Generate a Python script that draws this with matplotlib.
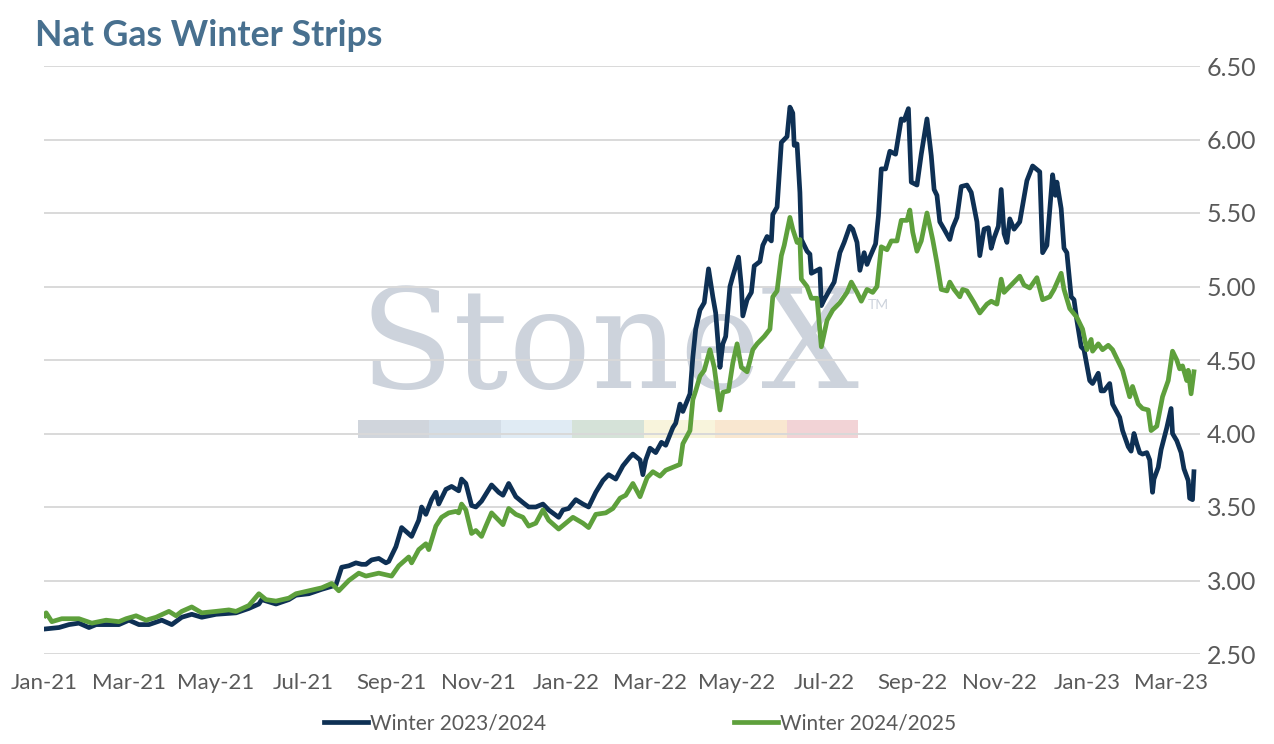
import matplotlib
matplotlib.use("Agg")
import matplotlib.pyplot as plt
import matplotlib.dates as mdates
from matplotlib.patches import Rectangle
import pandas as pd

# Winter 2023/2024 strip
w2324_dates = [
    "2021-01-01", "2021-01-11", "2021-01-18", "2021-01-25", "2021-02-01", "2021-02-06",
    "2021-02-22", "2021-03-01", "2021-03-08", "2021-03-15", "2021-03-24", "2021-03-31",
    "2021-04-07", "2021-04-14", "2021-04-21", "2021-05-01", "2021-05-15", "2021-05-24",
    "2021-05-31", "2021-06-02", "2021-06-12", "2021-06-21", "2021-06-26", "2021-07-05",
    "2021-07-14", "2021-07-21", "2021-07-24", "2021-07-28", "2021-08-02", "2021-08-07",
    "2021-08-11", "2021-08-14", "2021-08-18", "2021-08-23", "2021-08-28", "2021-08-30",
    "2021-09-04", "2021-09-08", "2021-09-15", "2021-09-20", "2021-09-22", "2021-09-25",
    "2021-09-29", "2021-10-02", "2021-10-04", "2021-10-09", "2021-10-13", "2021-10-18",
    "2021-10-20", "2021-10-23", "2021-10-27", "2021-10-30", "2021-11-03", "2021-11-10",
    "2021-11-15", "2021-11-18", "2021-11-22", "2021-11-27", "2021-12-02", "2021-12-06",
    "2021-12-11", "2021-12-16", "2021-12-20", "2021-12-27", "2021-12-30", "2022-01-03",
    "2022-01-08", "2022-01-13", "2022-01-17", "2022-01-22", "2022-01-27", "2022-01-31",
    "2022-02-05", "2022-02-10", "2022-02-15", "2022-02-17", "2022-02-22", "2022-02-24",
    "2022-02-26", "2022-03-01", "2022-03-05", "2022-03-09", "2022-03-12", "2022-03-17",
    "2022-03-19", "2022-03-22", "2022-03-24", "2022-03-29", "2022-03-31", "2022-04-02",
    "2022-04-05", "2022-04-08", "2022-04-11", "2022-04-14", "2022-04-16", "2022-04-19",
    "2022-04-21", "2022-04-23", "2022-04-26", "2022-04-28", "2022-05-02", "2022-05-04",
    "2022-05-05", "2022-05-08", "2022-05-11", "2022-05-13", "2022-05-17", "2022-05-19",
    "2022-05-22", "2022-05-25", "2022-05-26", "2022-05-29", "2022-06-01", "2022-06-05",
    "2022-06-07", "2022-06-09", "2022-06-10", "2022-06-12", "2022-06-14", "2022-06-15",
    "2022-06-19", "2022-06-21", "2022-06-22", "2022-06-26", "2022-06-28", "2022-06-29",
    "2022-07-01", "2022-07-05", "2022-07-08", "2022-07-12", "2022-07-15", "2022-07-19",
    "2022-07-21", "2022-07-24", "2022-07-26", "2022-07-29", "2022-07-31", "2022-08-02",
    "2022-08-06", "2022-08-08", "2022-08-10", "2022-08-13", "2022-08-16", "2022-08-20",
    "2022-08-24", "2022-08-26", "2022-08-29", "2022-08-31", "2022-09-04", "2022-09-07",
    "2022-09-11", "2022-09-14", "2022-09-16", "2022-09-18", "2022-09-20", "2022-09-23",
    "2022-09-27", "2022-09-29", "2022-10-02", "2022-10-05", "2022-10-09", "2022-10-12",
    "2022-10-16", "2022-10-18", "2022-10-21", "2022-10-24", "2022-10-26", "2022-10-28",
    "2022-10-31", "2022-11-02", "2022-11-04", "2022-11-06", "2022-11-08", "2022-11-11",
    "2022-11-15", "2022-11-20", "2022-11-24", "2022-11-29", "2022-12-01", "2022-12-04",
    "2022-12-08", "2022-12-10", "2022-12-11", "2022-12-14", "2022-12-16", "2022-12-18",
    "2022-12-21", "2022-12-23", "2022-12-25", "2022-12-28", "2022-12-30", "2023-01-03",
    "2023-01-05", "2023-01-09", "2023-01-11", "2023-01-13", "2023-01-17", "2023-01-19",
    "2023-01-24", "2023-01-26", "2023-01-30", "2023-02-01", "2023-02-03", "2023-02-05",
    "2023-02-07", "2023-02-09", "2023-02-12", "2023-02-14", "2023-02-16", "2023-02-17",
    "2023-02-20", "2023-02-22", "2023-02-26", "2023-03-01", "2023-03-02", "2023-03-05",
    "2023-03-08", "2023-03-10", "2023-03-13", "2023-03-14", "2023-03-16", "2023-03-17",
]
w2324_values = [
    2.67, 2.68, 2.70, 2.71, 2.68, 2.70,
    2.70, 2.73, 2.70, 2.70, 2.73, 2.70,
    2.75, 2.77, 2.75, 2.77, 2.78, 2.81,
    2.84, 2.87, 2.84, 2.87, 2.90, 2.91,
    2.94, 2.96, 2.97, 3.09, 3.10, 3.12,
    3.11, 3.11, 3.14, 3.15, 3.12, 3.13,
    3.23, 3.36, 3.30, 3.41, 3.50, 3.45,
    3.55, 3.60, 3.52, 3.62, 3.64, 3.61,
    3.69, 3.66, 3.51, 3.50, 3.54, 3.65,
    3.60, 3.58, 3.66, 3.57, 3.53, 3.50,
    3.50, 3.52, 3.48, 3.43, 3.48, 3.49,
    3.55, 3.52, 3.50, 3.60, 3.68, 3.72,
    3.69, 3.78, 3.84, 3.86, 3.82, 3.72,
    3.82, 3.90, 3.87, 3.94, 3.92, 4.04,
    4.07, 4.20, 4.15, 4.27, 4.52, 4.71,
    4.84, 4.89, 5.12, 4.93, 4.82, 4.45,
    4.61, 4.66, 5.00, 5.07, 5.20, 5.00,
    4.80, 4.91, 4.96, 5.14, 5.17, 5.28,
    5.34, 5.31, 5.49, 5.54, 5.98, 6.02,
    6.22, 6.18, 5.96, 5.97, 5.64, 5.32,
    5.24, 5.22, 5.09, 5.11, 5.12, 4.87,
    4.91, 4.98, 5.03, 5.23, 5.30, 5.41,
    5.39, 5.30, 5.11, 5.23, 5.15, 5.20,
    5.29, 5.48, 5.80, 5.80, 5.92, 5.90,
    6.14, 6.13, 6.21, 5.71, 5.69, 5.90,
    6.14, 5.89, 5.66, 5.62, 5.44, 5.39,
    5.32, 5.40, 5.47, 5.68, 5.69, 5.64,
    5.44, 5.21, 5.39, 5.40, 5.26, 5.33,
    5.41, 5.66, 5.36, 5.30, 5.46, 5.39,
    5.44, 5.72, 5.82, 5.78, 5.23, 5.28,
    5.76, 5.62, 5.71, 5.53, 5.26, 5.23,
    4.93, 4.91, 4.77, 4.59, 4.57, 4.36,
    4.34, 4.41, 4.29, 4.29, 4.34, 4.20,
    4.11, 4.02, 3.91, 3.88, 4.00, 3.93,
    3.87, 3.86, 3.87, 3.82, 3.60, 3.69,
    3.77, 3.89, 4.04, 4.17, 4.00, 3.95,
    3.87, 3.76, 3.68, 3.56, 3.55, 3.74,
]

# Winter 2024/2025 strip
w2425_dates = [
    "2021-01-01", "2021-01-02", "2021-01-06", "2021-01-13", "2021-01-25", "2021-02-03",
    "2021-02-13", "2021-02-22", "2021-02-27", "2021-03-06", "2021-03-13", "2021-03-20",
    "2021-03-29", "2021-04-03", "2021-04-07", "2021-04-14", "2021-04-21", "2021-05-01",
    "2021-05-10", "2021-05-15", "2021-05-24", "2021-05-31", "2021-06-05", "2021-06-12",
    "2021-06-21", "2021-06-26", "2021-07-05", "2021-07-14", "2021-07-21", "2021-07-26",
    "2021-08-02", "2021-08-09", "2021-08-14", "2021-08-23", "2021-09-01", "2021-09-06",
    "2021-09-13", "2021-09-15", "2021-09-20", "2021-09-25", "2021-09-27", "2021-10-02",
    "2021-10-06", "2021-10-11", "2021-10-16", "2021-10-18", "2021-10-20", "2021-10-23",
    "2021-10-27", "2021-10-30", "2021-11-03", "2021-11-06", "2021-11-10", "2021-11-13",
    "2021-11-18", "2021-11-22", "2021-11-27", "2021-12-02", "2021-12-06", "2021-12-11",
    "2021-12-16", "2021-12-20", "2021-12-27", "2022-01-01", "2022-01-06", "2022-01-13",
    "2022-01-17", "2022-01-22", "2022-01-29", "2022-02-03", "2022-02-08", "2022-02-12",
    "2022-02-17", "2022-02-22", "2022-02-27", "2022-03-03", "2022-03-08", "2022-03-12",
    "2022-03-17", "2022-03-22", "2022-03-24", "2022-03-29", "2022-03-31", "2022-04-02",
    "2022-04-05", "2022-04-08", "2022-04-12", "2022-04-15", "2022-04-19", "2022-04-21",
    "2022-04-25", "2022-04-28", "2022-05-01", "2022-05-04", "2022-05-08", "2022-05-12",
    "2022-05-15", "2022-05-20", "2022-05-24", "2022-05-26", "2022-05-29", "2022-06-01",
    "2022-06-03", "2022-06-07", "2022-06-09", "2022-06-12", "2022-06-14", "2022-06-15",
    "2022-06-19", "2022-06-22", "2022-06-26", "2022-06-29", "2022-07-03", "2022-07-07",
    "2022-07-12", "2022-07-17", "2022-07-20", "2022-07-24", "2022-07-27", "2022-07-31",
    "2022-08-04", "2022-08-07", "2022-08-10", "2022-08-14", "2022-08-17", "2022-08-21",
    "2022-08-24", "2022-08-28", "2022-08-30", "2022-09-01", "2022-09-04", "2022-09-07",
    "2022-09-11", "2022-09-15", "2022-09-18", "2022-09-21", "2022-09-25", "2022-09-27",
    "2022-09-30", "2022-10-04", "2022-10-06", "2022-10-09", "2022-10-14", "2022-10-18",
    "2022-10-23", "2022-10-26", "2022-10-30", "2022-11-02", "2022-11-04", "2022-11-09",
    "2022-11-15", "2022-11-18", "2022-11-22", "2022-11-27", "2022-12-01", "2022-12-06",
    "2022-12-09", "2022-12-14", "2022-12-16", "2022-12-20", "2022-12-25", "2022-12-29",
    "2023-01-01", "2023-01-04", "2023-01-05", "2023-01-09", "2023-01-12", "2023-01-16",
    "2023-01-19", "2023-01-23", "2023-01-26", "2023-01-31", "2023-02-02", "2023-02-06",
    "2023-02-09", "2023-02-13", "2023-02-15", "2023-02-19", "2023-02-23", "2023-02-27",
    "2023-03-02", "2023-03-05", "2023-03-07", "2023-03-09", "2023-03-12", "2023-03-13",
    "2023-03-15", "2023-03-17",
]
w2425_values = [
    2.76, 2.78, 2.72, 2.74, 2.74, 2.71,
    2.73, 2.72, 2.74, 2.76, 2.73, 2.75,
    2.79, 2.76, 2.79, 2.82, 2.78, 2.79,
    2.80, 2.79, 2.83, 2.91, 2.87, 2.86,
    2.88, 2.91, 2.93, 2.95, 2.98, 2.93,
    3.00, 3.05, 3.03, 3.05, 3.03, 3.10,
    3.16, 3.12, 3.21, 3.25, 3.21, 3.37,
    3.43, 3.46, 3.47, 3.46, 3.52, 3.48,
    3.32, 3.34, 3.30, 3.37, 3.46, 3.43,
    3.38, 3.49, 3.45, 3.43, 3.37, 3.39,
    3.48, 3.41, 3.35, 3.39, 3.43, 3.39,
    3.36, 3.45, 3.46, 3.49, 3.56, 3.58,
    3.66, 3.57, 3.70, 3.74, 3.71, 3.75,
    3.77, 3.79, 3.93, 4.02, 4.23, 4.29,
    4.39, 4.43, 4.57, 4.45, 4.16, 4.28,
    4.29, 4.48, 4.61, 4.45, 4.42, 4.57,
    4.61, 4.66, 4.71, 4.93, 4.97, 5.21,
    5.28, 5.47, 5.39, 5.30, 5.32, 5.05,
    5.00, 4.92, 4.92, 4.59, 4.77, 4.84,
    4.89, 4.96, 5.03, 4.96, 4.90, 4.98,
    4.96, 5.00, 5.27, 5.25, 5.31, 5.31,
    5.45, 5.45, 5.52, 5.37, 5.24, 5.31,
    5.50, 5.32, 5.16, 4.98, 4.97, 5.03,
    4.98, 4.93, 4.98, 4.97, 4.89, 4.82,
    4.88, 4.90, 4.88, 5.05, 4.96, 5.01,
    5.07, 5.01, 4.99, 5.06, 4.91, 4.93,
    4.98, 5.09, 4.98, 4.85, 4.79, 4.71,
    4.57, 4.64, 4.56, 4.61, 4.57, 4.60,
    4.57, 4.49, 4.43, 4.25, 4.32, 4.20,
    4.17, 4.16, 4.02, 4.05, 4.25, 4.36,
    4.56, 4.50, 4.44, 4.46, 4.36, 4.43,
    4.27, 4.42,
]

series_names = ["Winter 2023/2024", "Winter 2024/2025"]
y_ticks = [2.50, 3.00, 3.50, 4.00, 4.50, 5.00, 5.50, 6.00, 6.50]

navy = "#0e3054"
green = "#5ea03c"
grey_txt = "#595959"

plt.rcParams["font.family"] = ["Lato", "DejaVu Sans"]

fig = plt.figure(figsize=(12.74, 7.44), dpi=100)
ax = fig.add_axes([44 / 1274, 1 - 654 / 744, 1156 / 1274, 588 / 744])

ax.plot(pd.to_datetime(w2324_dates), w2324_values, color=navy, lw=3.4,
        solid_joinstyle="round", label=series_names[0], zorder=3)
ax.plot(pd.to_datetime(w2425_dates), w2425_values, color=green, lw=3.4,
        solid_joinstyle="round", label=series_names[1], zorder=3)

ax.set_ylim(2.5, 6.5)
ax.set_yticks(y_ticks)
ax.set_yticklabels([f"{v:.2f}" for v in y_ticks])
ax.set_xlim(pd.Timestamp("2020-12-31 12:00"), pd.Timestamp("2023-03-21 06:00"))
ax.xaxis.set_major_locator(mdates.MonthLocator(bymonth=[1, 3, 5, 7, 9, 11]))
ax.xaxis.set_major_formatter(mdates.DateFormatter("%b-%y"))

ax.yaxis.tick_right()
ax.grid(axis="y", color="#d9d9d9", lw=1.4, zorder=1)
ax.set_axisbelow(True)
for s in ax.spines.values():
    s.set_visible(False)
ax.tick_params(axis="y", length=0, pad=5, labelsize=18, labelcolor=grey_txt)
ax.tick_params(axis="x", length=0, pad=14, labelsize=16, labelcolor=grey_txt)

# StoneX watermark (behind the data)
ax.text(0.2725, 0.452, "StoneX", transform=ax.transAxes, fontfamily="DejaVu Serif",
        fontsize=99, color="#cdd3dc", ha="left", va="baseline", zorder=0.2)
ax.text(0.713, 0.594, "TM", transform=ax.transAxes, fontsize=10,
        color="#cdd3dc", ha="left", va="center", zorder=0.2)
band_colors = ["#d0d5dc", "#d3dde7", "#e0ebf4", "#d5e2d8", "#f8f4dc", "#f9e7d0", "#f2d3d6"]
band_w = 500 / 1156 / len(band_colors)
for i, c in enumerate(band_colors):
    ax.add_patch(Rectangle((314 / 1156 + i * band_w, (654 - 438) / 588), band_w, 18 / 588,
                           transform=ax.transAxes, facecolor=c, edgecolor="none",
                           zorder=0.2, clip_on=False))

fig.text(35 / 1274, 1 - 35 / 744, "Nat Gas Winter Strips", fontsize=25.7,
         fontweight="bold", color="#48708f", ha="left", va="center")

fig.legend(loc="center", bbox_to_anchor=(640 / 1274, 1 - 723 / 744), ncol=2,
           frameon=False, fontsize=15, labelcolor=grey_txt, handlelength=2.1,
           handletextpad=0.1, columnspacing=9.0)

fig.savefig("out.png", dpi=100)
